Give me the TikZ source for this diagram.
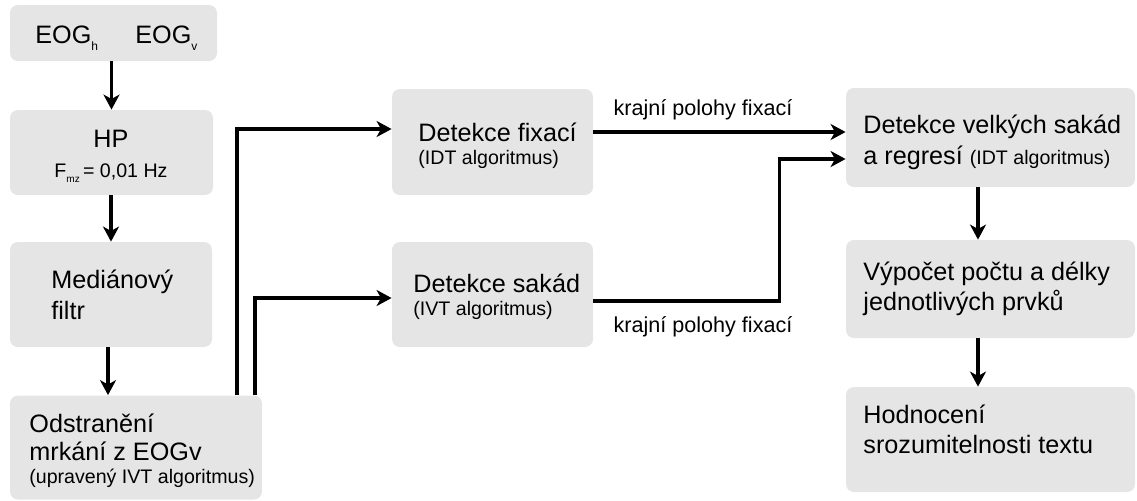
\documentclass[tikz,border=0pt]{standalone}
\usepackage{fontspec}
\setmainfont{Liberation Sans}
\usetikzlibrary{arrows.meta,calc}
\definecolor{boxgray}{RGB}{229,229,229}
\newcommand{\sbx}[1]{\raisebox{-3.5pt}{\fontsize{6}{7}\selectfont #1}}
\newcommand{\sbm}[1]{\raisebox{-2.5pt}{\fontsize{5}{6}\selectfont #1}}
\tikzset{
  box/.style={draw=none,fill=boxgray,rounded corners=4pt,inner sep=0pt},
  big/.style={font=\fontsize{12.6}{14}\selectfont,inner sep=0pt},
  small/.style={font=\fontsize{9.8}{11}\selectfont,inner sep=0pt},
  lab/.style={font=\fontsize{10.8}{12}\selectfont,inner sep=0pt,anchor=base},
  arr/.style={line width=1.6pt,-{Stealth[length=7.5pt,width=8pt,inset=2.2pt]}},
}
\begin{document}
\begin{tikzpicture}[x=0.5pt,y=-0.5pt]
\useasboundingbox (0,0) rectangle (1137,500);
% boxes
\node[box,minimum width=103.5pt,minimum height=28pt] (eog) at (113.5,33) {};
\node[box,minimum width=101.5pt,minimum height=42.5pt] (hp) at (111.5,152.5) {};
\node[box,minimum width=101pt,minimum height=52.5pt] (med) at (111,294.5) {};
\node[box,minimum width=126pt,minimum height=52pt] (odst) at (136,447.5) {};
\node[box,minimum width=100.5pt,minimum height=53pt] (fix) at (492.5,142) {};
\node[box,minimum width=100.5pt,minimum height=52.5pt] (sak) at (492.5,294.5) {};
\node[box,minimum width=144.5pt,minimum height=49.5pt] (vel) at (990.5,137.5) {};
\node[box,minimum width=144.5pt,minimum height=49pt] (vyp) at (990.5,289) {};
\node[box,minimum width=144.5pt,minimum height=52.5pt] (hod) at (990.5,439.5) {};
% texts
\node[big,anchor=base west] (eogh) at (35,43) {EOG\sbx{h}};
\node[big,anchor=base west] (eogv) at (135,43) {EOG\sbx{v}};
\node[big,anchor=base] (hpa) at (111,147) {HP};
\node[small,anchor=base] (hpb) at (111,177) {F\sbm{mz}\,= 0,01 Hz};
\node[big,anchor=base west] (meda) at (51,288) {Mediánový};
\node[big,anchor=base west] (medb) at (51,319) {filtr};
\node[big,anchor=base west] (odsta) at (29,432) {Odstranění};
\node[big,anchor=base west] (odstb) at (29,460) {mrkání z EOGv};
\node[small,anchor=base west] (odstc) at (29,483) {(upravený IVT algoritmus)};
\node[big,anchor=base west] (fixa) at (418,141) {Detekce fixací};
\node[small,anchor=base west] (fixb) at (418,164) {(IDT algoritmus)};
\node[big,anchor=base west] (saka) at (413,292) {Detekce sakád};
\node[small,anchor=base west] (sakb) at (413,315) {(IVT algoritmus)};
\node[big,anchor=base west] (vela) at (863,133) {Detekce velkých sakád};
\node[big,anchor=base west] (velb) at (863,164) {a regresí {\fontsize{9.8}{11}\selectfont(IDT algoritmus)}};
\node[big,anchor=base west] (vypa) at (863,280) {Výpočet počtu a délky};
\node[big,anchor=base west] (vypb) at (863,310) {jednotlivých prvků};
\node[big,anchor=base west] (hoda) at (863,423) {Hodnocení};
\node[big,anchor=base west] (hodb) at (863,453) {srozumitelnosti textu};
\node[lab] (l1) at (703,115) {krajní polohy fixací};
\node[lab] (l2) at (703,332) {krajní polohy fixací};
% connectors
\draw[arr] (hp.north |- eog.south) -- (hp.north);
\draw[arr] (med.north |- hp.south) -- (med.north);
\draw[arr] ([xshift=-1.5pt]med.south) -- ([xshift=-1.5pt]med.south |- odst.north);
\draw[arr] ([xshift=50.5pt]odst.north) |- ([yshift=6.5pt]fix.west);
\draw[arr] ([xshift=59.5pt]odst.north) |- ([yshift=-1.75pt]sak.west);
\draw[arr] ([yshift=2.75pt]vel.west -| fix.east) -- ([yshift=2.75pt]vel.west);
\draw[arr] ([yshift=-3.25pt]sak.east) -- ++(93pt,0) |- ([yshift=-10.75pt]vel.west);
\draw[arr] ([xshift=-6.25pt]vel.south) -- ([xshift=-6.25pt]vel.south |- vyp.north);
\draw[arr] ([xshift=-6.25pt]vyp.south) -- ([xshift=-6.25pt]vyp.south |- hod.north);
\end{tikzpicture}
\end{document}
